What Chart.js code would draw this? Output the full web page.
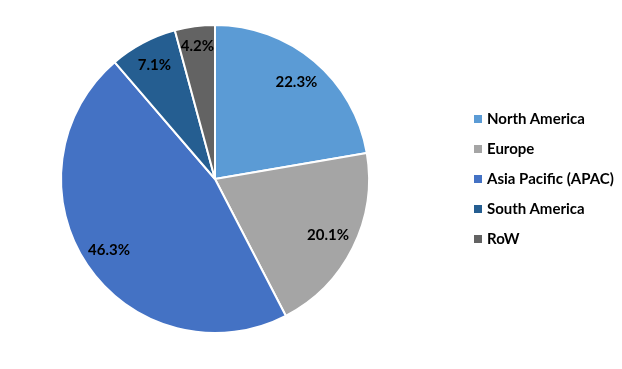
<!DOCTYPE html>
<html>
<head>
<meta charset="utf-8">
<script src="https://cdn.jsdelivr.net/npm/chart.js@4.4.0/dist/chart.umd.min.js"></script>
<style>
  html, body { margin: 0; padding: 0; background: #fff; }
  #wrap { position: relative; width: 622px; height: 369px; }
  #legend { position: absolute; left: 474px; top: 107px; font: bold 15px Lato; color: #000; }
  #legend div { height: 30px; line-height: 22px; white-space: nowrap; }
  #legend span { display: inline-block; width: 8px; height: 8px; margin-right: 5px; vertical-align: 1px; }
</style>
</head>
<body>
<div id="wrap">
  <canvas id="myChart" width="622" height="369"></canvas>
  <div id="legend"></div>
</div>
<script>
const regions = ['North America', 'Europe', 'Asia Pacific (APAC)', 'South America', 'RoW'];
const shares = [22.3, 20.1, 46.3, 7.1, 4.2];
const colors = ['#5B9BD5', '#A5A5A5', '#4472C4', '#255E91', '#636363'];
// how far out each label sits (fraction of radius)
const labelPos = [0.82, 0.82, 0.83, 0.84, 0.87];

// draws the percent text on each slice
const sliceLabels = {
    id: 'sliceLabels',
    afterDatasetsDraw(chart) {
        const ctx = chart.ctx;
        const meta = chart.getDatasetMeta(0);
        ctx.save();
        ctx.font = 'bold 15px Lato';
        ctx.fillStyle = '#000';
        ctx.textAlign = 'center';
        ctx.textBaseline = 'middle';
        meta.data.forEach((arc, i) => {
            const mid = (arc.startAngle + arc.endAngle) / 2;
            const r = arc.outerRadius * labelPos[i];
            ctx.fillText(shares[i].toFixed(1) + '%', arc.x + Math.cos(mid) * r, arc.y + Math.sin(mid) * r);
        });
        ctx.restore();
    }
};

let ctx = document.getElementById('myChart').getContext('2d');
let chart = new Chart(ctx, {
    type: 'pie',
    data: {
        labels: regions,
        datasets: [{
            data: shares,
            backgroundColor: colors,
            borderColor: '#fff',
            borderWidth: 2
        }]
    },
    options: {
        responsive: false,
        animation: false,
        layout: { padding: { left: 0, right: 192, top: 24, bottom: 35 } },
        plugins: {
            tooltip: { enabled: false },
            legend: { display: false }
        }
    },
    plugins: [sliceLabels]
});

// legend as html, built from the same arrays
const legendBox = document.getElementById('legend');
regions.forEach((name, i) => {
    const row = document.createElement('div');
    const sw = document.createElement('span');
    sw.style.background = colors[i];
    row.appendChild(sw);
    row.appendChild(document.createTextNode(name));
    legendBox.appendChild(row);
});
</script>
</body>
</html>
